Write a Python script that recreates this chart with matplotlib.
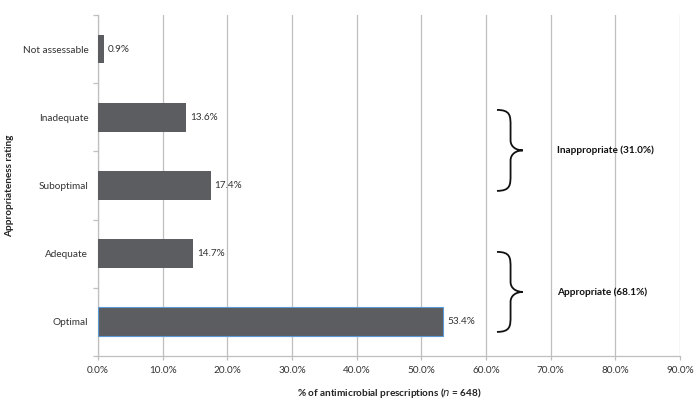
import matplotlib.pyplot as plt
import numpy as np
from matplotlib.path import Path
from matplotlib.patches import PathPatch

plt.rcParams['font.family'] = ['Lato', 'DejaVu Sans']

# data (bottom to top)
categories = ['Optimal', 'Adequate', 'Suboptimal', 'Inadequate', 'Not assessable']
percent = [53.4, 14.7, 17.4, 13.6, 0.9]
xticks = [0, 10, 20, 30, 40, 50, 60, 70, 80, 90]
groups = ['Appropriate (68.1%)', 'Inappropriate (31.0%)']

gray = '#bfbfbf'
txt = '#333333'

fig = plt.figure(figsize=(7, 3.99), dpi=100)
ax = fig.add_axes([0.14, 0.108, 0.8314, 0.8546])

y = np.arange(len(categories))
bars = ax.barh(y, percent, height=0.42, color='#5c5d61', zorder=3)
bars[0].set_edgecolor('#5b9bd5')
bars[0].set_linewidth(0.8)

for yi, v in zip(y, percent):
    ax.annotate('%.1f%%' % v, (v, yi), xytext=(3, 0), textcoords='offset points',
                va='center', ha='left', fontsize=7.2, color=txt)

ax.set_xlim(0, 90)
ax.set_ylim(-0.5, len(categories) - 0.5)
ax.set_xticks(xticks)
ax.set_xticklabels(['%.1f%%' % t for t in xticks], fontsize=7.2, color=txt)
ax.set_yticks(y)
ax.set_yticklabels(categories, fontsize=7.2, color=txt)
ax.set_yticks(np.arange(-0.5, len(categories)), minor=True)
ax.tick_params(axis='y', which='major', length=0, pad=7)
ax.tick_params(axis='y', which='minor', length=3.5, color=gray, width=0.9)
ax.tick_params(axis='x', length=3, color=gray, width=0.9, pad=4)
ax.grid(axis='x', color=gray, linewidth=0.9, zorder=0)
for s in ['top', 'right']:
    ax.spines[s].set_visible(False)
for s in ['left', 'bottom']:
    ax.spines[s].set_color(gray)
    ax.spines[s].set_linewidth(0.9)

ax.set_xlabel('% of antimicrobial prescriptions ($\\mathbf{\\mathit{n}}$ = 648)',
              fontsize=7.2, fontweight='bold', color='#222222', labelpad=8)
ax.set_ylabel('Appropriateness rating', fontsize=7.2, fontweight='bold',
              color='#222222', labelpad=6)


def brace(ax, ytop, ybot, x0=61.7, xm=63.8, xt=65.7):
    ytip = (ytop + ybot) / 2
    h = ytop - ytip
    verts = [(x0, ytop), (xm, ytop), (xm, ytop - 0.15 * h), (xm, ytop - 0.4 * h),
             (xm, ytop - 0.75 * h),
             (xm, ytip + 0.08 * h), (xm + 0.5 * (xt - xm), ytip), (xt, ytip),
             (xm + 0.5 * (xt - xm), ytip), (xm, ytip - 0.08 * h), (xm, ytip - 0.25 * h),
             (xm, ybot + 0.4 * h),
             (xm, ybot + 0.15 * h), (xm, ybot), (x0, ybot)]
    codes = [Path.MOVETO, Path.CURVE4, Path.CURVE4, Path.CURVE4,
             Path.LINETO,
             Path.CURVE4, Path.CURVE4, Path.CURVE4,
             Path.CURVE4, Path.CURVE4, Path.CURVE4,
             Path.LINETO,
             Path.CURVE4, Path.CURVE4, Path.CURVE4]
    ax.add_patch(PathPatch(Path(verts, codes), facecolor='none', edgecolor='#111111',
                           linewidth=1.3, zorder=4, clip_on=False))
    return ytip


t1 = brace(ax, 1.025, -0.148)
t2 = brace(ax, 3.107, 1.92)
ax.text(71.0, t1, groups[0], fontsize=7.2, fontweight='bold', va='center', color='#111111')
ax.text(71.0, t2, groups[1], fontsize=7.2, fontweight='bold', va='center', color='#111111')

fig.savefig('out.png', dpi=100)
